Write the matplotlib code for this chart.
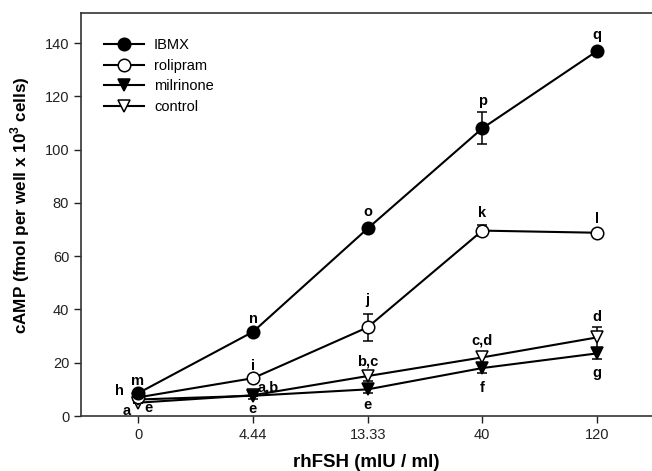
import matplotlib
matplotlib.use("Agg")
import matplotlib.pyplot as plt
from matplotlib.lines import Line2D
import numpy as np

plt.rcParams['font.family'] = ['Liberation Sans', 'DejaVu Sans']
plt.rcParams['mathtext.fontset'] = 'custom'
plt.rcParams['mathtext.bf'] = 'Liberation Sans:bold'
plt.rcParams['mathtext.rm'] = 'Liberation Sans'

doses = ['0', '4.44', '13.33', '40', '120']  # rhFSH (mIU/ml)

ibmx = [8.6, 31.6, 70.4, 108.0, 137.0]
ibmx_err = [0, 0, 0, 6.0, 0]
ibmx_letters = ['m', 'n', 'o', 'p', 'q']

rolipram = [7.0, 14.2, 33.3, 69.6, 68.8]
rolipram_err = [0, 0, 5.0, 2.0, 1.0]
rolipram_letters = ['h', 'i', 'j', 'k', 'l']

milrinone = [6.2, 7.6, 10.0, 18.0, 23.5]
milrinone_err = [0, 0, 1.5, 2.0, 2.0]
milrinone_letters = ['e', 'e', 'e', 'f', 'g']

control = [5.0, 7.8, 15.0, 22.0, 29.5]
control_err = [0, 1.5, 2.0, 2.0, 4.0]
control_letters = ['a', 'a,b', 'b,c', 'c,d', 'd']

x = np.arange(len(doses))

fig = plt.figure(figsize=(6.52, 4.71), dpi=100)
ax = fig.add_axes([81 / 652, 55 / 471, 1 - 81 / 652, (416 - 13) / 471])

series = [
    (control, control_err, 'v', 'white', 'control', 3),
    (milrinone, milrinone_err, 'v', 'black', 'milrinone', 4),
    (rolipram, rolipram_err, 'o', 'white', 'rolipram', 5),
    (ibmx, ibmx_err, 'o', 'black', 'IBMX', 6),
]
handles = {}
for vals, err, mk, fc, name, z in series:
    ax.errorbar(x, vals, yerr=err, fmt='-', marker=mk, color='black', mfc=fc, mec='black',
                ms=9, mew=1.1, lw=1.5, elinewidth=1.1, capsize=3.5, capthick=1.1, zorder=z)
    handles[name] = Line2D([], [], color='black', lw=1.5, marker=mk, mfc=fc, mec='black',
                           ms=9, mew=1.1)

# significance letters, offsets in pixels from each point
lab_kw = dict(textcoords='offset pixels', ha='center', va='center', fontsize=10.5,
              fontweight='bold', zorder=10)
ibmx_off = [(-1, 12), (0, 13), (0, 16), (0, 27), (0, 16)]
rolipram_off = [(-19, 6), (0, 12), (0, 27), (0, 18), (0, 14)]
milrinone_off = [(10, -9), (0, -13), (0, -16), (0, -20), (0, -20)]
control_off = [(-12, -8), (15, 8), (0, 15), (0, 17), (0, 20)]
for vals, letters, offs in [(ibmx, ibmx_letters, ibmx_off), (rolipram, rolipram_letters, rolipram_off),
                            (milrinone, milrinone_letters, milrinone_off),
                            (control, control_letters, control_off)]:
    for xi, v, t, o in zip(x, vals, letters, offs):
        ax.annotate(t, (xi, v), xytext=o, **lab_kw)

ax.set_xlim(-0.5, 4.48)
ax.set_ylim(0, 151.3)
ax.set_xticks(x)
ax.set_xticklabels(doses)
ax.set_yticks(np.arange(0, 141, 20))
ax.tick_params(direction='out', length=5, width=1, labelsize=10.5, colors='#222222')
ax.spines['right'].set_visible(False)
for s in ['left', 'bottom', 'top']:
    ax.spines[s].set_linewidth(1.2)
    ax.spines[s].set_color('#333333')

ax.set_xlabel('rhFSH (mIU / ml)', fontsize=13.5, fontweight='bold', labelpad=9)
ax.set_ylabel(r'cAMP (fmol per well x 10$^{\mathbf{3}}$ cells)', fontsize=12.3, fontweight='bold')
ax.yaxis.set_label_coords(-0.085, 0.524)

order = ['IBMX', 'rolipram', 'milrinone', 'control']
ax.legend([handles[n] for n in order], order, loc='upper left', frameon=False, fontsize=10.5,
          handlelength=2.7, handletextpad=0.7, labelspacing=0.45,
          bbox_to_anchor=(0.023, 0.963), borderaxespad=0.3)

fig.savefig('out.png', dpi=100)
